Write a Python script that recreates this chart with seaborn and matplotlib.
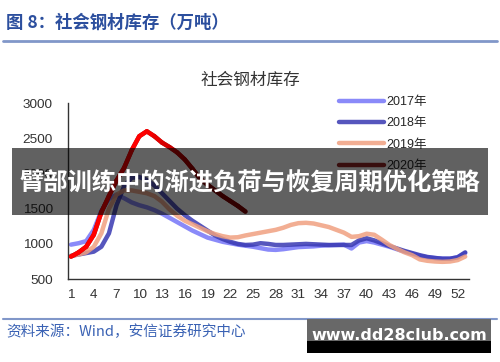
import numpy as np
import pandas as pd
import matplotlib
matplotlib.use("Agg")
import matplotlib.pyplot as plt
import seaborn as sns
from matplotlib.collections import LineCollection
from matplotlib.colors import to_rgb
from matplotlib.patches import Rectangle
from matplotlib.lines import Line2D

sns.set_theme(style="white")
plt.rcParams['font.family'] = ['Liberation Sans', 'Noto Sans CJK SC', 'DejaVu Sans']
plt.rcParams['axes.unicode_minus'] = False

# 周度社会钢材库存（万吨）
weeks = list(range(1, 54))
stock_2017 = [990, 1010, 1040, 1200, 1470, 1640, 1700, 1650, 1590, 1550,
              1520, 1480, 1430, 1370, 1310, 1250, 1190, 1140, 1090, 1060,
              1030, 1010, 990, 975, 960, 940, 920, 915, 925, 940,
              955, 960, 965, 975, 980, 985, 990, 935, 1020, 1040,
              1020, 990, 960, 925, 890, 860, 830, 810, 800, 790,
              790, 810, 870]
stock_2018 = [830, 850, 870, 890, 960, 1150, 1550, 1820, 1940, 1950,
              1910, 1830, 1720, 1610, 1500, 1410, 1330, 1260, 1190, 1120,
              1070, 1030, 1000, 985, 990, 1010, 1000, 985, 985, 990,
              995, 1000, 995, 990, 985, 985, 985, 985, 1050, 1080,
              1050, 1010, 970, 935, 900, 870, 840, 815, 800, 790,
              790, 810, 880]
stock_2019 = [830, 850, 880, 960, 1150, 1500, 1700, 1760, 1760, 1740,
              1720, 1680, 1600, 1490, 1400, 1330, 1280, 1230, 1180, 1140,
              1110, 1090, 1095, 1120, 1140, 1160, 1180, 1200, 1230, 1270,
              1295, 1300, 1290, 1265, 1240, 1200, 1160, 1100, 1110, 1145,
              1130, 1060, 985, 930, 880, 840, 780, 760, 750, 745,
              750, 770, 820]
weeks_2020 = list(range(1, 25))
stock_2020 = [820, 880, 960, 1130, 1450, 1680, 1900, 2080, 2330, 2530,
              2600, 2530, 2440, 2375, 2300, 2200, 2070, 1930, 1840, 1760,
              1680, 1610, 1540, 1460]

years = ['2017年', '2018年', '2019年', '2020年']
colors = ['#7676f8', '#3838b2', '#f0a080', '#800000']
x_labels = list(range(1, 53, 3))
y_ticks = [500, 1000, 1500, 2000, 2500, 3000]

frames = []
for yr, wk, vals in zip(years, [weeks, weeks, weeks, weeks_2020],
                        [stock_2017, stock_2018, stock_2019, stock_2020]):
    frames.append(pd.DataFrame({'week': wk, 'stock': vals, 'year': yr}))
df = pd.concat(frames, ignore_index=True)

fig = plt.figure(figsize=(5, 3.62), dpi=100)
ax = fig.add_axes([0.136, 0.229, 0.802, 0.486])

sns.lineplot(data=df, x='week', y='stock', hue='year', hue_order=years,
             palette=dict(zip(years, colors)), linewidth=3.2, alpha=0.85,
             ax=ax, legend=False)

# 2020年线条从鲜红渐变到深红
pts = np.column_stack([weeks_2020, stock_2020])
segs = np.stack([pts[:-1], pts[1:]], axis=1)
red, maroon = np.array(to_rgb('#ff0000')), np.array(to_rgb('#800000'))
mids = (pts[:-1, 0] + pts[1:, 0]) / 2
t = np.clip((mids - 11) / 8, 0, 1)[:, None]
seg_colors = red * (1 - t) + maroon * t
ax.add_collection(LineCollection(segs, colors=seg_colors, linewidths=3.2,
                                 capstyle='round', joinstyle='round', zorder=5))

ax.set_xlim(0.6, 53.5)
ax.set_ylim(500, 3000)
ax.set_xticks(x_labels)
ax.set_xticklabels([str(v) for v in x_labels])
ax.set_xticks(weeks, minor=True)
ax.set_yticks(y_ticks)
ax.set_xlabel('')
ax.set_ylabel('')
ax.tick_params(axis='both', which='both', direction='in', length=3.5, width=1,
               color='#333333', labelsize=9.7, labelcolor='#333333')
ax.tick_params(axis='y', pad=11)
ax.tick_params(axis='x', pad=7)
sns.despine(ax=ax)
for side in ['left', 'bottom']:
    ax.spines[side].set_color('#333333')
    ax.spines[side].set_linewidth(1)

handles = [Line2D([], [], color=c, linewidth=3.2, alpha=0.85) for c in colors]
ax.legend(handles, years, frameon=False, loc='upper left',
          bbox_to_anchor=(0.678, 0.735), bbox_transform=fig.transFigure,
          fontsize=9, handlelength=3.6, labelspacing=0.75, handletextpad=0.2,
          borderpad=0, borderaxespad=0)

fig.text(0.5, 1 - 80 / 362, '社会钢材库存', ha='center', va='center',
         fontsize=12, color='#333333', family=['Noto Sans CJK SC'])

# 报告页眉与页脚
fig.text(0.012, 1 - 23 / 362, '图 8：社会钢材库存（万吨）', ha='left', va='center',
         fontsize=12.5, fontweight='bold', color='#2c4f9e',
         family=['Noto Sans CJK SC', 'DejaVu Sans'])
fig.add_artist(Line2D([0.006, 0.994], [1 - 41 / 362] * 2, color='#8197c9',
                      linewidth=2, transform=fig.transFigure))
fig.add_artist(Line2D([0.006, 0.994], [1 - 319 / 362] * 2, color='#8197c9',
                      linewidth=1.5, transform=fig.transFigure))
fig.text(0.012, 1 - 332 / 362, '资料来源：Wind，安信证券研究中心', ha='left',
         va='center', fontsize=10.5, style='italic', color='#3a62b4',
         family=['Noto Sans CJK SC', 'DejaVu Sans'])

# 标题横幅
fig.add_artist(Rectangle((12 / 500, 1 - 215 / 362), 476 / 500, 67 / 362,
                         transform=fig.transFigure, facecolor='black',
                         alpha=0.62, edgecolor='none', zorder=10))
fig.text(0.5, 1 - 183 / 362, '臂部训练中的渐进负荷与恢复周期优化策略',
         ha='center', va='center', fontsize=17.5, fontweight='bold',
         color='white', family=['Noto Sans CJK SC'], zorder=11)

# 水印
fig.add_artist(Rectangle((307 / 500, 1 - 341 / 362), 184 / 500, 22 / 362,
                         transform=fig.transFigure, facecolor='#686868',
                         edgecolor='none', zorder=10))
fig.add_artist(Rectangle((307 / 500, 1 - 353 / 362), 184 / 500, 12 / 362,
                         transform=fig.transFigure, facecolor='black',
                         edgecolor='none', zorder=10))
fig.text(399 / 500, 1 - 336 / 362, 'www.dd28club.com', ha='center', va='center',
         fontsize=11.5, fontweight='bold', color='white',
         family=['DejaVu Sans'], zorder=11)

fig.savefig('out.png', dpi=100)
